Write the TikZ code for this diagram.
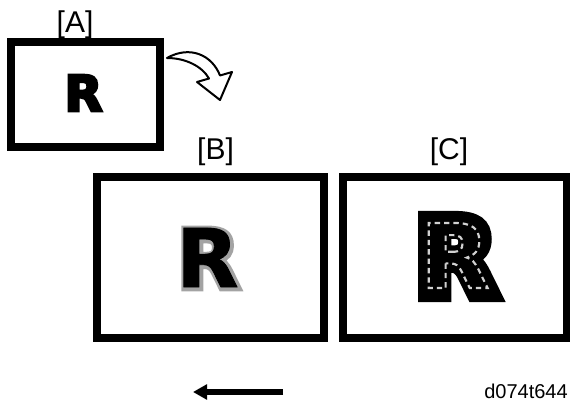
\documentclass[tikz,border=0pt]{standalone}
\usepackage{fontspec}
\setmainfont{Liberation Sans}
\newfontfamily\glyphfont{DejaVu Sans Bold}
\usepackage{xcolor}
\usetikzlibrary{arrows.meta, positioning}
% a letter drawn with extra pdf text state (render mode, width, colour)
\newcommand{\pdfR}[1]{\special{pdf:literal direct #1}R}
\newcommand{\fatR}[2]{\pdfR{2 Tr #1 w 0 j 4 M #2 g #2 G}}
\newcommand{\dashR}{\pdfR{1 Tr 1.6 w [4 3] 0 d 0.82 G}}

\begin{document}
\begin{tikzpicture}[
    x=0.75pt, y=-0.75pt,
    >={Triangle[length=10.5pt, width=11pt]},
    frame/.style={draw, line width=6pt, inner sep=0pt},
    tag/.style  ={inner sep=0pt, font=\fontsize{22.5pt}{24pt}\selectfont},
    glyph/.style={inner sep=0pt, outer sep=0pt},
    turn/.style ={draw, line width=1.5pt, line join=round, fill=white},
    move/.style ={->, line width=4.5pt},
]
\useasboundingbox (0,0) rectangle (570,402);
% the three frames
\node[frame, minimum width=111.75pt, minimum height=78.4pt]  (boxA) at (85.5,94.75) {};
\node[frame, minimum width=169.9pt,  minimum height=120.4pt] (boxB) at (210.25,257.75) {};
\node[frame, minimum width=168pt,    minimum height=120.4pt] (boxC) at (455,257.75) {};
% frame labels
\node[tag] (tagA) at (75,25)   {[A]};
\node[tag] (tagB) at (215.5,152) {[B]};
\node[tag] (tagC) at (449,152) {[C]};
% letters
\node[glyph, font=\glyphfont\fontsize{37pt}{39pt}\selectfont] (rA) at (83.5,93)
   {\fatR{2}{0}};
\node[glyph, font=\glyphfont\fontsize{60.75pt}{62pt}\selectfont] (rBhalo) at (208.5,258.5)
   {\fatR{5}{0.64}};
\node[glyph, font=\glyphfont\fontsize{60.75pt}{62pt}\selectfont] (rB) at (207.5,257.5)
   {\fatR{0.6}{0}};
\node[glyph, font=\glyphfont\fontsize{80pt}{82pt}\selectfont] (rC) at (456,256.5)
   {\fatR{10}{0}};
\node[glyph, font=\glyphfont\fontsize{67pt}{69pt}\selectfont] (rCold) at (455,255.5)
   {\dashR};
% curved hollow arrow
\draw[turn] (167,58) .. controls (190,45) and (212,55) .. (220,75.5)
   -- (232,72) -- (220,100) -- (197,82) -- (209,78.5)
   .. controls (202,66) and (185,58) .. cycle;
% direction of travel
\coordinate (mv0) at (283,392);
\coordinate (mv1) at (193,392);
\draw[move] (mv0) -- (mv1);
\node[anchor=base east, inner sep=0pt, font=\fontsize{15pt}{17pt}\selectfont]
   (code) at (568,398) {d074t644};
\end{tikzpicture}
\end{document}
